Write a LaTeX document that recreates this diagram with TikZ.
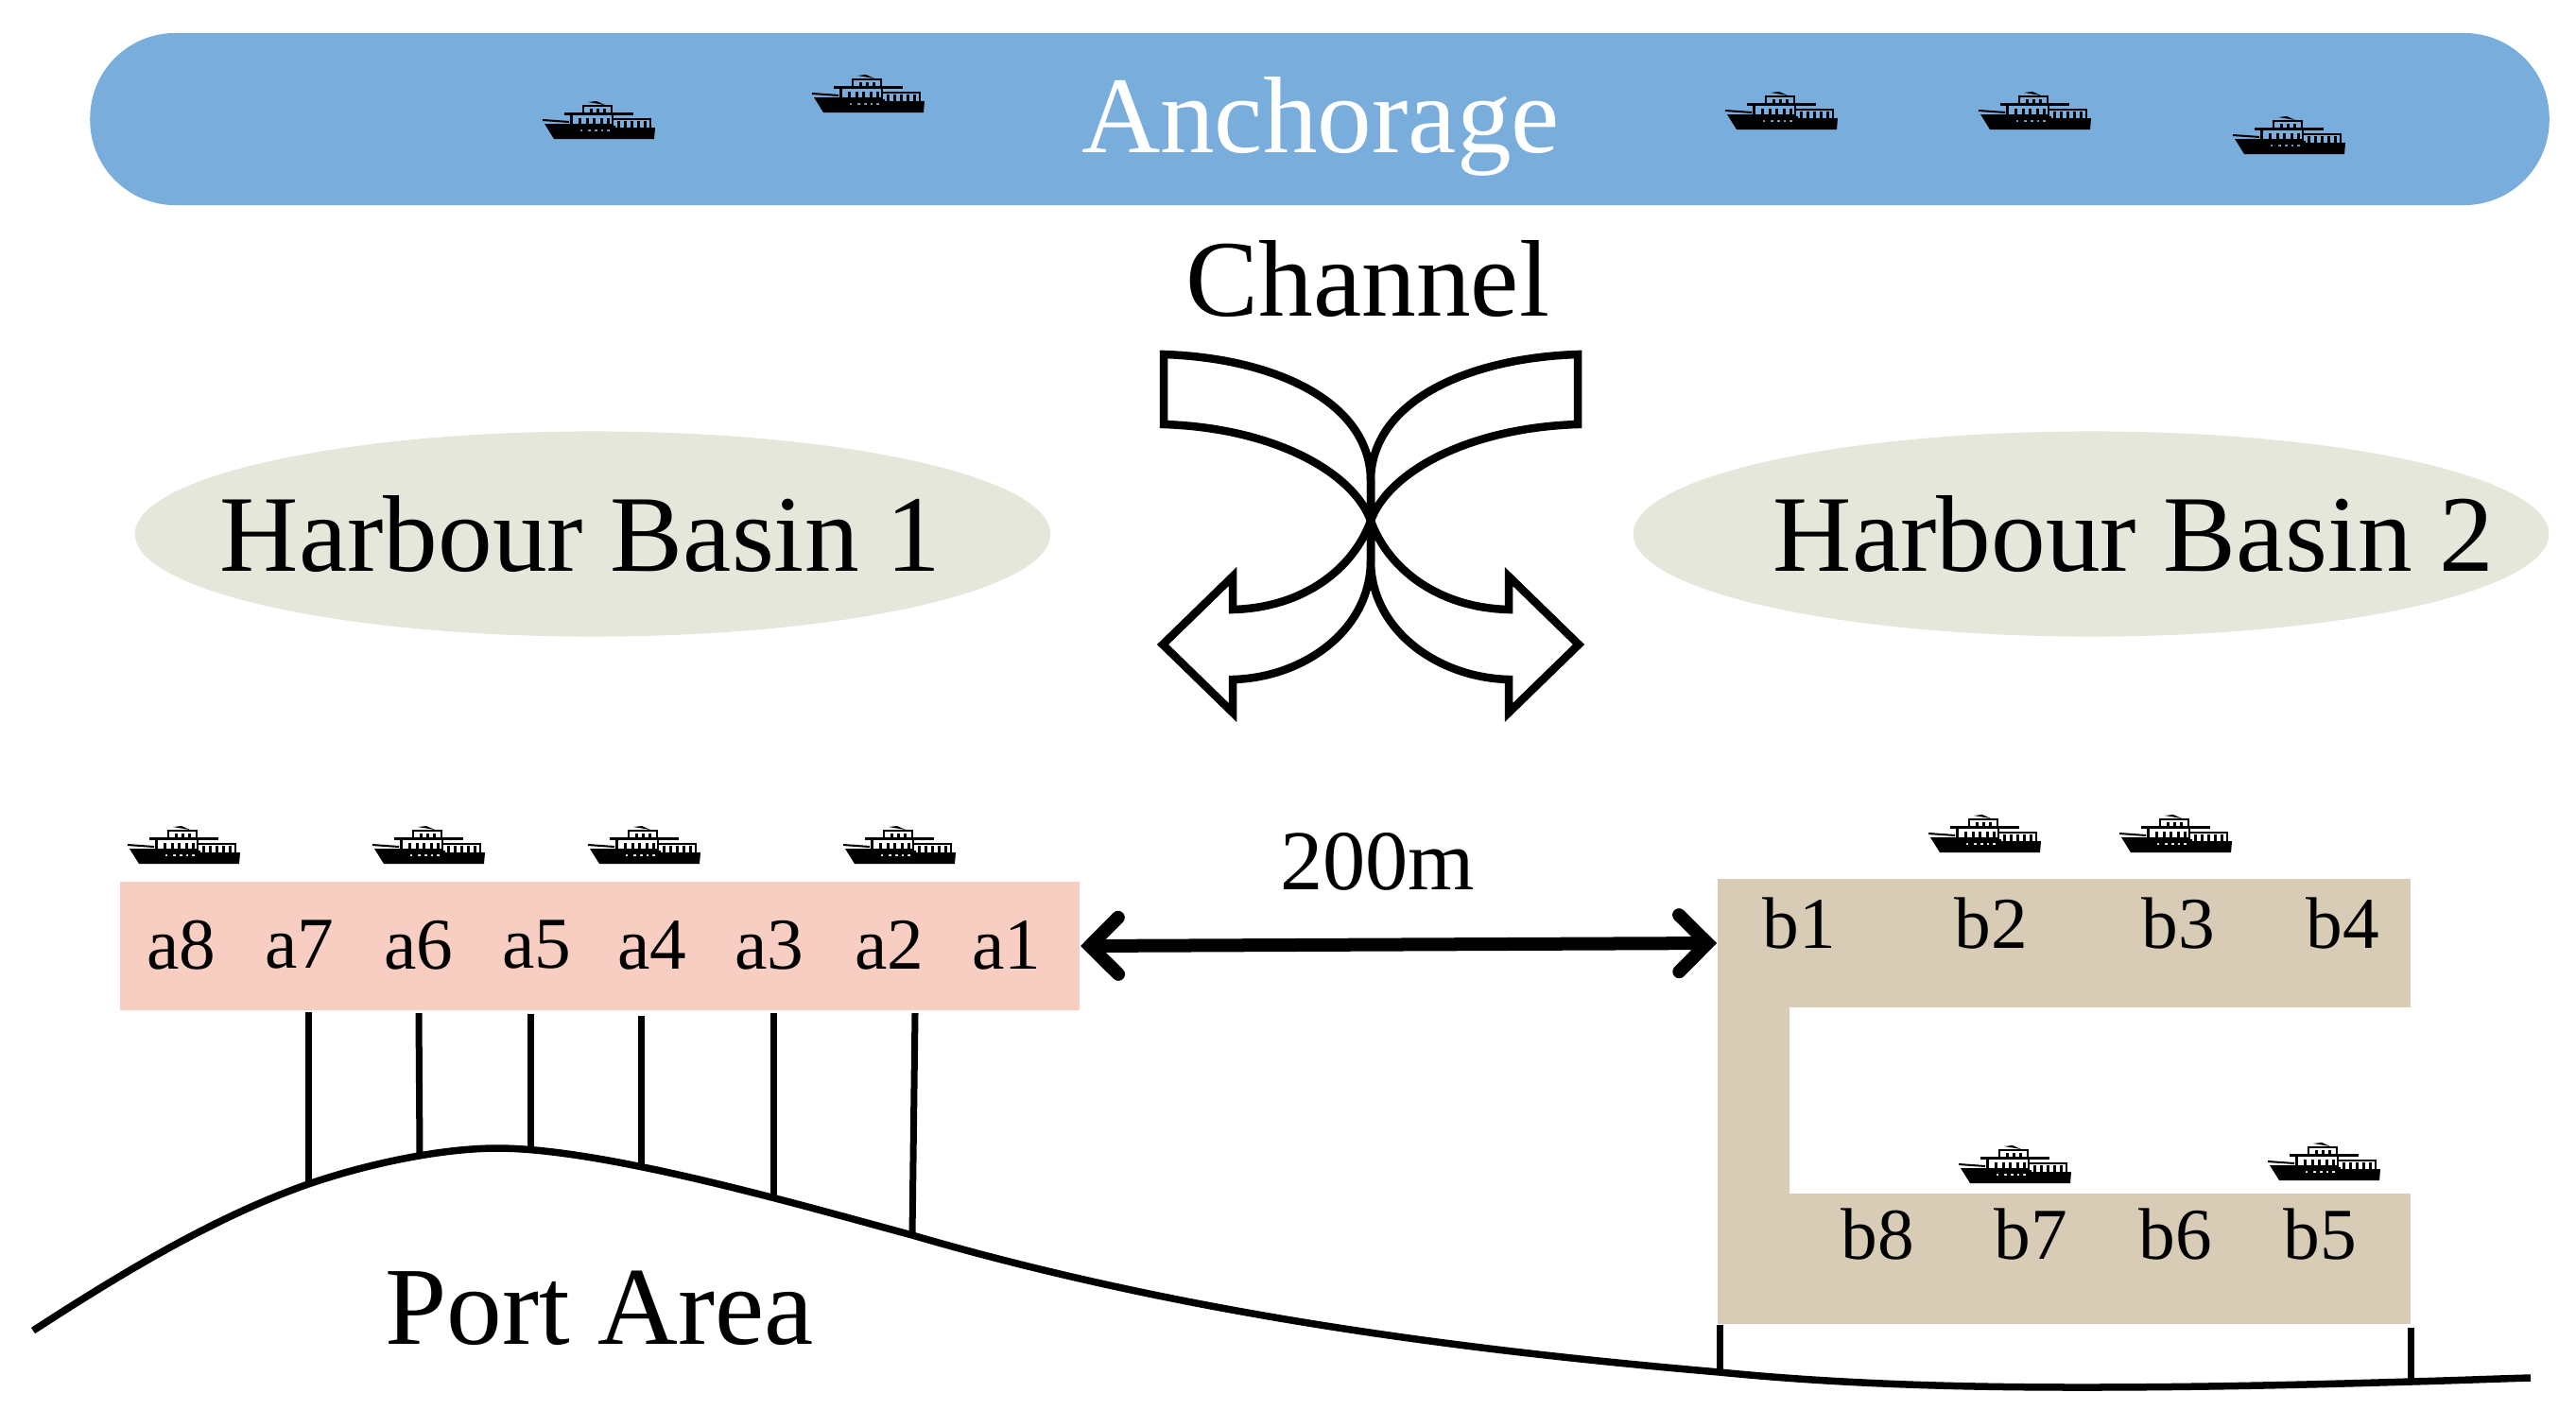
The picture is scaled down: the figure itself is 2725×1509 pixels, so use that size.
\documentclass[tikz,border=0pt]{standalone}
\usepackage{fontspec}
\setmainfont{Liberation Serif}
\usetikzlibrary{positioning,calc,shapes.geometric,arrows.meta}
\definecolor{portBlue}{HTML}{78ADDC}
\definecolor{portGrey}{HTML}{E4E7DA}
\definecolor{portPink}{HTML}{F9CEC2}
\definecolor{portTan}{HTML}{D9CCB6}
\tikzset{
   portBasin/.style = {
         ellipse,
         fill = portGrey,
         inner sep = 0 pt,
         minimum width = 9.68cm,
         minimum height = 2.17cm,
      },
   portAnchorage/.style = {
         rectangle,
         rounded corners = 0.9cm,
         fill = portBlue,
         inner sep = 0 pt,
         minimum width = 26.0cm,
         minimum height = 1.82cm,
      },
   portBerth/.style = {
         rectangle,
         inner sep = 0 pt,
      },
   portBig/.style = {
         inner sep = 0 pt,
         font = \fontsize{32.8}{36}\selectfont,
      },
   portLabel/.style = {
         inner sep = 0 pt,
         font = \fontsize{22}{24}\selectfont,
      },
   portPile/.style = {
         draw,
         line width = 0.07cm,
      },
   portLine/.style = {
         draw,
         line width = 0.075cm,
      },
   portFlow/.style = {
         draw,
         line width = 0.085cm,
         miter limit = 10,
      },
   portSpan/.style = {
         draw,
         line width = 0.14cm,
         {Straight Barb[length=0.3cm,width=0.6cm,line cap=round,line join=miter]}-{Straight Barb[length=0.3cm,width=0.6cm,line cap=round,line join=miter]},
      },
   ship/.pic = {
      \fill [even odd rule]
         (-58,1) -- (-28,1) -- (-28,3) -- (17,3) -- (17,5) -- (59,5) -- (58,17) -- (-48,17) -- cycle
         (-20,7) rectangle (-18,9) (-12,7) rectangle (-9,9) (-5,7) rectangle (-2,9)
         (2,7) rectangle (4,9) (8,7) rectangle (11,9);
      \draw [line width = 0.02cm] (-60,-3) -- (-32,-1);
      \fill (-37,-11) rectangle (36,-8);
      \fill (-31,-8) rectangle (-28,2);
      \fill (13,-8) rectangle (15,2);
      \draw [line width = 0.025cm] (-32,2) -- (15,2);
      \foreach \x in {-22,-14,-7,1,8}
         \fill (\x,-5) rectangle ++(3,6);
      \fill (15,-5) rectangle (55,-3);
      \fill (53,-5) rectangle (55,5);
      \foreach \x in {19,26,33,40,47}
         \fill (\x,-2) rectangle ++(2.5,7);
      \fill (-18,-19) rectangle (14,-17);
      \fill (-18,-19) rectangle (-16,-10);
      \fill (12,-19) rectangle (14,-10);
      \fill (-12,-22) -- (-3,-23) -- (6,-19) -- cycle;
      \foreach \x in {-10,-3,4}
         \fill (\x,-15) rectangle ++(3,5);
   },
   portArrow/.pic = {
      \path [portFlow]
         (-219,-102) -- (-219,-176)
         .. controls (-100,-172) and (0,-125) .. (0,-42)
         -- (0,42)
         .. controls (0,115) and (70,166) .. (146,168)
         -- (146,203) -- (220,131) -- (146,59) -- (146,94)
         .. controls (70,92) and (18,50) .. (0,0)
         .. controls (-18,-50) and (-100,-98) .. (-219,-102)
         -- cycle;
   },
}

\begin{document}
\begin{tikzpicture}[x=0.01cm, y=-0.01cm]
\useasboundingbox (0,0) rectangle (2725,1509);

% Place nodes
\node [portAnchorage] (anchorage) at (1396,126) {};
\node [portBig, text=white] (anchorage-text) at (1397,134) {Anchorage};
\node [portBig] (channel) at (1447,295) {Channel};
\node [portBasin] (basin1) at (627,565) {};
\node [portBasin] (basin2) at (2212,565) {};
\node [portBig] (basin1-text) at (614,565) {Harbour Basin 1};
\node [portBig] (basin2-text) at (2257,565) {Harbour Basin 2};

\node [portBerth, fill=portPink, minimum width=10.15cm, minimum height=1.36cm]
	(pierA) at (634.5,1001) {};
\node [portBerth, fill=portTan, minimum width=7.33cm, minimum height=1.36cm]
	(pierB-top) at (2183.5,998) {};
\node [portBerth, fill=portTan, minimum width=7.33cm, minimum height=1.38cm]
	(pierB-low) at (2183.5,1332) {};
\node [portBerth, fill=portTan, minimum width=0.76cm, minimum height=3.5cm]
	(pierB-stem) at (1855,1164) {};

\foreach \name/\x in {a8/192,a7/317,a6/443,a5/568,a4/690,a3/814,a2/941,a1/1065}
	\node [portLabel] (\name) at (\x,1000) {\name};
\foreach \name/\x in {b1/1903,b2/2106,b3/2304,b4/2478}
	\node [portLabel] (\name) at (\x,977) {\name};
\foreach \name/\x in {b8/1986,b7/2148,b6/2301,b5/2454}
	\node [portLabel] (\name) at (\x,1306) {\name};

\node [inner sep=0pt, font=\fontsize{25.7}{28}\selectfont] (span) at (1457,912) {200m};
\node [inner sep=0pt, font=\fontsize{33.4}{36}\selectfont] (port) at (634,1384) {Port Area};

% Place ships
\foreach \name/\x/\y in {s1/634/130,s2/919/102,s3/1885/120,s4/2153/120,s5/2422/146,
	s6/195/897,s7/454/897,s8/682/897,s9/952/897,
	s10/2100/885,s11/2302/885,s12/2132/1235,s13/2459/1232}
	\pic (\name) at (\x,\y) {ship};

% Place joins
\foreach \i/\x/\y in {1/35/1408,2/326/1253,3/444/1222,4/526/1215,5/561/1217,6/678/1232,
	7/818/1268,8/965/1307,9/1819/1452,10/2202/1468,11/2550/1462,12/2677/1458}
	\coordinate (shore\i) at (\x,\y);
\foreach \i/\x/\y in {1/326/1071,2/443/1072,3/561/1073,4/678/1075,5/818/1072,6/968/1072,
	7/1819/1402,8/2550/1405}
	\coordinate (pile\i) at (\x,\y);

% Draw edges
\path [portLine] (shore1)
	.. controls (132,1345) and (229,1287) .. (shore2)
	.. controls (393,1230) and (470,1215) .. (shore4)
	.. controls (640,1215) and (850,1276) .. (shore8)
	.. controls (1250,1390) and (1540,1428) .. (shore9)
	.. controls (1950,1465) and (2080,1468) .. (shore10)
	.. controls (2330,1468) and (2450,1465) .. (shore11)
	.. controls (2590,1461) and (2640,1459) .. (shore12);

\path [portPile] (pile1) -- (shore2);
\path [portPile] (pile2) -- (shore3);
\path [portPile] (pile3) -- (shore5);
\path [portPile] (pile4) -- (shore6);
\path [portPile] (pile5) -- (shore7);
\path [portPile] (pile6) -- (shore8);
\path [portPile] (pile7) -- (shore9);
\path [portPile] (pile8) -- (shore11);

\path [portSpan] (pierA.east) -- (pierB-top.west);

\pic (flow1) at (1450,551) {portArrow};
\pic [xscale=-1] (flow2) at (1450,551) {portArrow};

\end{tikzpicture}
\end{document}
